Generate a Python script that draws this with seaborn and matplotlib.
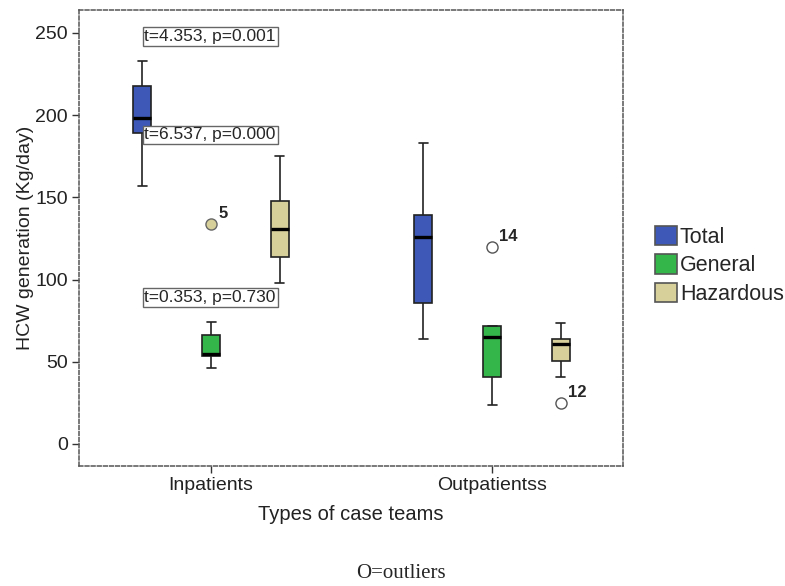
import pandas as pd
import matplotlib.pyplot as plt
import seaborn as sns

# categories and groups
teams = ["Inpatients", "Outpatientss"]
waste = ["Total", "General", "Hazardous"]
colors = ["#3D58B6", "#35B64B", "#D8D09A"]

# five-number summaries: low whisker, Q1, median, Q3, high whisker
inp_total = [157, 189, 198, 218, 233]
inp_general = [46, 53.5, 55, 66, 74]
inp_hazard = [98, 114, 131, 148, 175]
out_total = [64, 86, 126, 139, 183]
out_general = [24, 41, 65, 72, 72]
out_hazard = [41, 50.5, 61, 64, 73.5]

# outliers (value, case number)
inp_general_out = [134, "5"]
out_general_out = [120, "14"]
out_hazard_out = [25, "12"]

# t-test labels (text, y value)
tests = [["t=4.353, p=0.001", 248], ["t=6.537, p=0.000", 188], ["t=0.353, p=0.730", 89]]

summaries = {
    ("Inpatients", "Total"): (inp_total, None),
    ("Inpatients", "General"): (inp_general, inp_general_out[0]),
    ("Inpatients", "Hazardous"): (inp_hazard, None),
    ("Outpatientss", "Total"): (out_total, None),
    ("Outpatientss", "General"): (out_general, out_general_out[0]),
    ("Outpatientss", "Hazardous"): (out_hazard, out_hazard_out[0]),
}

# build 9 values per group so that Q1/median/Q3 land exactly on the read values
rows = []
for (team, kind), (s, out) in summaries.items():
    lo, q1, med, q3, hi = s
    vals = [lo, lo, q1, q1, med, q3, q3, hi, hi]
    if out is not None:
        if out > hi:
            vals[-1] = out
        else:
            vals[0] = out
    for v in vals:
        rows.append({"team": team, "kind": kind, "value": v})
df = pd.DataFrame(rows)

sns.set_style("white")
plt.rcParams["font.family"] = ["Liberation Sans", "DejaVu Sans"]

fig = plt.figure(figsize=(7.85, 5.86), dpi=100)
ax = fig.add_axes([0.1006, 0.2048, 0.6930, 0.7782])

width = 0.736
sns.boxplot(
    data=df, x="team", y="value", hue="kind",
    order=teams, hue_order=waste, palette=colors,
    width=width, gap=0.74, saturation=1, linecolor="#222222", linewidth=1.2,
    medianprops=dict(color="black", linewidth=2.4),
    flierprops=dict(marker="o", markersize=8), ax=ax,
)

for cont in ax.containers:
    for fl in cont.fliers:
        fl.set(marker="o", markersize=8, markerfacecolor="white",
               markeredgecolor="#555555", markeredgewidth=1)
# SPSS drew the inpatient general outlier in tan
ax.containers[1].fliers[0].set(markerfacecolor=colors[2], markeredgecolor="#666666")

step = width / 3
ax.set_xlim(-0.47, 1.466)
ax.set_ylim(-13.4, 264)
ax.set_yticks([0, 50, 100, 150, 200, 250])

# outlier case numbers
for (val, lab), xpos in [(inp_general_out, 0), (out_general_out, 1), (out_hazard_out, 1 + step)]:
    ax.text(xpos + 0.025, val + 6, lab, fontsize=12, fontweight="bold", ha="left", va="center")

# t-test labels
for txt, yv in tests:
    ax.text(-0.237, yv, txt, fontsize=12.5, ha="left", va="center", zorder=10,
            bbox=dict(boxstyle="square,pad=0.1", fc="white", ec="#666666", lw=1))

for sp in ax.spines.values():
    sp.set_visible(True)
    sp.set_linestyle((0, (2.5, 1.5)))
    sp.set_color("#555555")
    sp.set_linewidth(1.1)

ax.tick_params(axis="both", direction="out", length=5, width=1, color="#333333",
               labelsize=14, labelcolor="#222222", bottom=True, left=True, pad=3)
ax.set_xlabel("Types of case teams", fontsize=14.5, labelpad=8, color="#222222")
ax.set_ylabel("HCW generation (Kg/day)", fontsize=14, labelpad=1, color="#222222")

sns.move_legend(ax, "center left", bbox_to_anchor=(1.051, 0.44), frameon=False,
                title=None, fontsize=15.5, handlelength=1.0, handleheight=1.0,
                handletextpad=0.15, labelspacing=0.3, borderaxespad=0, borderpad=0.2)
for h in ax.get_legend().legend_handles:
    h.set_edgecolor("#555555")

fig.text(0.511, 0.022, "O=outliers", fontsize=15, ha="center", va="center",
         family="Liberation Serif")

fig.savefig("out.png", dpi=100)
